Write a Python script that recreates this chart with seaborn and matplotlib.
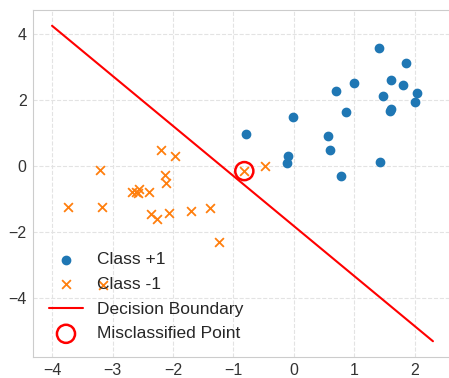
import numpy as np
import matplotlib
matplotlib.use("Agg")
import matplotlib.pyplot as plt
import seaborn as sns

# Class +1 points
pos_x = [1.40, 1.86, 1.60, 1.81, 2.04, 2.01, 1.48, 0.99, 0.69, 1.60,
         1.59, 0.87, -0.01, -0.79, 0.57, 0.59, -0.09, -0.12, 1.42, 0.78]
pos_y = [3.56, 3.12, 2.60, 2.44, 2.19, 1.94, 2.10, 2.51, 2.27, 1.72,
         1.66, 1.62, 1.47, 0.95, 0.90, 0.49, 0.30, 0.10, 0.11, -0.30]

# Class -1 points
neg_x = [-2.19, -1.96, -3.21, -2.13, -2.11, -2.67, -2.61, -2.56, -2.58, -2.39,
         -3.73, -3.17, -2.36, -2.27, -2.07, -1.71, -1.38, -1.24, -0.82, -0.48, -3.16]
neg_y = [0.48, 0.29, -0.12, -0.29, -0.51, -0.80, -0.78, -0.71, -0.81, -0.79,
         -1.24, -1.26, -1.46, -1.60, -1.42, -1.36, -1.29, -2.30, -0.16, -0.01, -3.61]

# misclassified point
mis_x = [-0.82]
mis_y = [-0.16]

# decision boundary endpoints
boundary_x = [-4.0, 2.3]
boundary_y = [4.24, -5.31]

sns.set_style("whitegrid", {"grid.linestyle": "--", "grid.color": "#e3e3e3",
                            "axes.edgecolor": "#cccccc"})
plt.rcParams['font.family'] = ['Liberation Sans', 'DejaVu Sans']

fig = plt.figure(figsize=(4.49, 3.78), dpi=100)
ax = fig.add_axes([33 / 449, 21 / 378, 419 / 449, 347 / 378])

ax.scatter(pos_x, pos_y, color='#1f77b4', s=36, marker='o', label='Class +1')
ax.scatter(neg_x, neg_y, color='#ff7f0e', s=40, marker='x', linewidths=1.3, label='Class -1')
ax.plot(boundary_x, boundary_y, color='red', linewidth=1.5, label='Decision Boundary')
ax.scatter(mis_x, mis_y, s=170, facecolors='none', edgecolors='red', linewidths=1.8,
           label='Misclassified Point')

ax.set_xticks([-4, -3, -2, -1, 0, 1, 2])
ax.set_yticks([-4, -2, 0, 2, 4])
ax.tick_params(labelsize=11.5, colors='#333333', pad=1)
ax.legend(loc='lower left', frameon=False, fontsize=12.5, handletextpad=0.8,
          borderpad=0.4, labelspacing=0.55)

fig.savefig("out.png", dpi=100)
